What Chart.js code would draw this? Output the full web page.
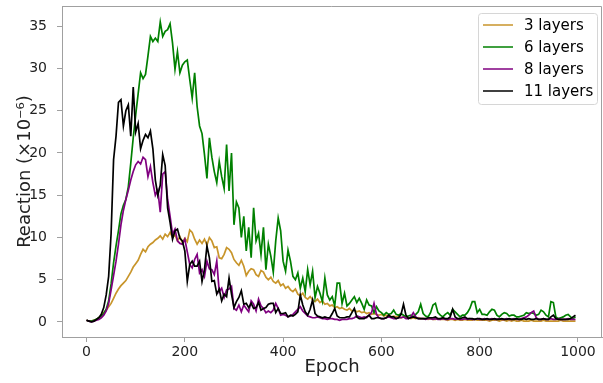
<!DOCTYPE html>
<html>
<head>
<meta charset="utf-8">
<script src="https://cdn.jsdelivr.net/npm/chart.js@4.4.1/dist/chart.umd.min.js"></script>
<style>
  html, body { margin: 0; padding: 0; background: #fff; }
  #wrap { width: 603px; height: 383px; position: relative; }
</style>
</head>
<body>
<div id="wrap"><canvas id="chart"></canvas></div>
<script>
var STEP = 5;
var xTicks = [0, 200, 400, 600, 800, 1000];
var yTicks = [0, 5, 10, 15, 20, 25, 30, 35];
var seriesNames = ['3 layers', '6 layers', '8 layers', '11 layers'];
var seriesColors = ['#c8952b', '#008000', '#800080', '#000000'];

var layers3 = [
  0.2,0.1,0.1,0.2,0.3,0.5,0.8,1.1,1.4,1.8,2.2,2.8,3.4,3.9,4.3,4.6,4.9,5.4,5.9,6.5,
  6.9,7.3,8.0,8.6,8.3,8.9,9.2,9.4,9.7,9.9,10.2,9.8,10.4,10.1,10.6,10.0,10.3,9.6,10.1,9.4,
  9.9,9.5,10.9,10.6,9.8,9.2,9.7,9.3,9.8,9.1,10.0,9.6,8.8,8.9,7.6,7.5,8.0,8.8,8.6,8.2,
  7.4,7.0,6.7,7.3,6.6,5.5,6.0,6.3,6.2,5.6,5.4,6.1,5.9,5.3,5.0,5.3,4.8,4.6,4.9,4.3,
  4.5,4.0,4.2,3.8,3.6,3.9,3.3,3.1,3.4,2.9,2.7,3.0,2.6,2.4,2.7,2.3,2.5,2.1,2.2,1.9,
  2.0,1.7,1.8,1.6,1.7,1.5,1.4,1.6,1.3,1.4,1.2,1.3,1.1,1.2,1.0,1.1,0.9,1.0,0.9,0.8,
  0.9,0.7,0.8,0.7,0.6,0.7,0.6,0.6,0.5,0.6,0.5,0.5,0.4,0.5,0.4,0.5,0.4,0.4,0.4,0.3,
  0.4,0.3,0.3,0.4,0.3,0.3,0.3,0.2,0.3,0.3,0.2,0.3,0.2,0.2,0.3,0.2,0.2,0.2,0.3,0.2,
  0.2,0.2,0.2,0.2,0.1,0.2,0.2,0.2,0.1,0.2,0.2,0.1,0.2,0.1,0.2,0.1,0.1,0.2,0.1,0.1,
  0.1,0.2,0.1,0.1,0.1,0.1,0.2,0.1,0.1,0.1,0.1,0.1,0.1,0.2,0.1,0.1,0.1,0.1,0.1,0.1
];
var layers6 = [
  0.2,0.1,0.1,0.2,0.3,0.5,0.7,1.0,1.5,2.5,4.5,7.0,9.0,10.8,12.8,13.8,14.5,16.0,18.8,21.8,
  24.5,27.0,29.5,28.8,29.3,31.5,33.8,33.2,33.6,33.2,35.5,33.8,34.4,34.6,35.3,33.0,29.9,32.0,29.5,30.4,
  30.8,31.0,28.7,26.5,29.5,25.5,23.2,22.3,19.8,17.0,21.8,19.5,17.8,16.5,19.0,17.2,15.8,21.0,15.5,20.0,
  11.5,14.2,13.5,10.0,12.5,8.4,11.2,7.6,13.5,9.6,10.5,8.0,11.2,6.2,9.2,7.8,5.9,9.6,12.3,10.8,
  7.2,6.0,8.5,7.2,5.4,5.0,5.8,4.0,5.2,3.6,6.2,4.4,6.0,2.9,4.2,3.4,2.4,5.2,3.2,2.6,
  3.0,1.9,4.6,4.6,2.2,3.4,1.9,2.2,2.6,3.0,2.3,2.8,2.2,1.5,2.6,2.0,1.9,1.1,1.8,1.3,
  1.1,0.8,1.1,0.9,1.0,1.4,0.9,0.8,1.0,0.8,0.6,0.7,0.8,0.6,0.9,1.2,2.1,1.0,0.7,0.6,
  1.1,2.0,2.2,1.1,0.8,0.6,0.9,1.1,0.8,1.5,1.2,0.9,0.6,0.8,0.8,1.1,1.6,2.4,2.4,1.1,
  1.5,0.9,0.9,0.8,1.2,1.5,1.4,0.8,0.6,0.9,1.1,1.0,0.7,0.8,0.8,0.6,0.6,0.7,0.8,1.1,
  1.0,1.1,1.0,0.8,0.9,1.4,1.2,0.8,0.6,2.4,2.3,0.6,0.4,0.5,0.6,0.8,0.9,0.6,0.4,0.6
];
var layers8 = [
  0.2,0.1,0.0,0.1,0.2,0.3,0.5,0.8,1.3,2.2,3.8,5.5,7.2,9.2,11.5,13.2,14.5,15.6,16.8,17.8,
  18.6,19.0,18.7,19.5,19.2,17.2,18.4,16.5,15.0,15.6,13.0,17.5,17.8,14.5,12.5,10.4,11.0,9.6,9.3,9.2,
  9.8,8.3,6.8,6.4,7.4,8.0,5.8,6.2,5.4,7.2,6.3,6.2,5.6,7.2,3.6,4.0,2.9,3.8,3.9,4.2,
  1.6,1.4,2.0,1.2,2.0,1.6,1.2,2.5,2.1,1.3,2.7,1.9,1.6,1.1,1.3,1.1,1.4,2.2,1.6,0.8,
  0.9,0.8,0.6,0.7,0.9,1.2,1.5,1.8,1.3,1.0,0.7,0.6,0.5,0.5,0.6,0.5,0.4,0.4,0.3,0.4,
  0.4,0.3,0.3,0.2,0.3,0.3,0.3,0.4,0.4,0.5,0.7,0.6,0.5,0.6,0.5,0.8,1.1,2.2,0.9,0.5,
  0.4,0.4,0.5,0.6,0.5,0.4,0.4,0.5,0.5,0.6,0.4,0.4,0.6,1.1,0.6,0.4,0.4,0.4,0.3,0.4,
  0.4,0.3,0.4,0.3,0.3,0.4,0.3,0.3,0.4,0.4,0.3,0.4,0.3,0.3,0.4,0.3,0.4,0.3,0.3,0.4,
  0.3,0.3,0.4,0.3,0.3,0.4,0.3,0.3,0.4,0.3,0.3,0.4,0.3,0.3,0.4,0.3,0.3,0.4,0.5,0.6,
  0.8,1.1,1.3,0.5,0.3,0.3,0.4,0.3,0.3,0.4,0.3,0.3,0.4,0.3,0.3,0.3,0.4,0.3,0.3,0.3
];
var layers11 = [
  0.2,0.1,0.0,0.1,0.3,0.5,0.9,1.7,3.2,5.4,10.5,19.2,22.0,26.0,26.3,23.2,25.0,25.7,22.0,27.8,
  22.5,23.5,20.5,21.5,22.2,21.8,22.6,20.5,16.8,15.0,16.2,19.8,18.5,13.5,11.8,9.8,10.8,11.0,9.9,9.6,
  8.4,4.8,6.8,7.2,6.6,6.6,7.2,4.8,6.2,9.0,7.6,4.8,4.9,3.3,3.9,2.5,3.3,3.0,5.2,3.3,
  1.7,2.4,2.9,3.7,2.1,2.2,1.7,2.2,1.6,1.7,2.3,1.4,1.6,1.7,2.1,2.2,2.2,1.1,1.6,1.0,
  1.0,1.1,0.6,0.8,0.7,0.9,1.2,3.2,2.0,1.2,0.8,1.5,2.6,1.0,0.7,0.6,0.5,0.6,0.5,0.5,
  1.0,1.6,0.7,0.5,0.5,0.5,0.6,0.6,1.1,1.6,0.6,0.4,0.4,0.4,0.6,0.8,0.4,0.4,0.5,0.5,
  0.4,0.4,0.5,0.8,0.6,0.6,0.4,0.5,0.9,2.1,0.8,0.4,0.5,0.6,0.5,0.4,0.4,0.4,0.4,0.5,
  0.5,0.5,0.6,0.4,0.4,0.5,0.4,0.4,0.6,1.5,0.6,0.4,0.4,0.5,0.6,0.4,0.4,0.4,0.3,0.4,
  0.4,0.3,0.3,0.4,0.3,0.3,0.4,0.3,0.3,0.4,0.3,0.3,0.4,0.3,0.3,0.4,0.3,0.3,0.4,0.3,
  0.4,0.3,0.3,0.4,0.3,0.3,0.4,0.3,0.3,0.6,0.8,0.4,0.3,0.3,0.3,0.3,0.3,0.4,0.6,0.8
];

var allSeries = [layers3, layers6, layers8, layers11];
var spine = '#a0a0a0';
var FONT = "'DejaVu Sans', sans-serif";

function toPoints(vals) {
    return vals.map(function(v, i) { return {x: i * STEP, y: v}; });
}

// matplotlib style legend, top right inside the axes
var boxLegend = {
    id: 'boxLegend',
    afterDraw: function(chart) {
        var ctx = chart.ctx, area = chart.chartArea;
        var w = 119, h = 91;
        var x0 = area.right - 5 - w, y0 = area.top + 7;
        ctx.save();
        ctx.fillStyle = 'rgba(255,255,255,0.8)';
        ctx.strokeStyle = '#d6d6d6';
        ctx.lineWidth = 1;
        ctx.beginPath();
        ctx.roundRect(x0 + 0.5, y0 + 0.5, w, h, 3);
        ctx.fill();
        ctx.stroke();
        ctx.font = '15px ' + FONT;
        ctx.textBaseline = 'middle';
        ctx.fillStyle = '#000';
        chart.data.datasets.forEach(function(ds, i) {
            var cy = y0 + 12 + i * 22;
            ctx.strokeStyle = ds.borderColor;
            ctx.lineWidth = 1.5;
            ctx.beginPath();
            ctx.moveTo(x0 + 5, cy);
            ctx.lineTo(x0 + 35, cy);
            ctx.stroke();
            ctx.fillText(ds.label, x0 + 46, cy + 1);
        });
        ctx.restore();
    }
};

// top and right spines
var frame = {
    id: 'frame',
    afterDraw: function(chart) {
        var ctx = chart.ctx, a = chart.chartArea;
        ctx.save();
        ctx.strokeStyle = spine;
        ctx.lineWidth = 1;
        ctx.beginPath();
        ctx.moveTo(a.left, a.top + 0.5);
        ctx.lineTo(a.right - 0.5, a.top + 0.5);
        ctx.lineTo(a.right - 0.5, a.bottom);
        ctx.stroke();
        ctx.restore();
    }
};

var datasets = allSeries.map(function(vals, i) {
    return {
        label: seriesNames[i],
        data: toPoints(vals),
        borderColor: seriesColors[i],
        borderWidth: 1.7,
        pointRadius: 0,
        fill: false,
        tension: 0,
        order: 3 - i
    };
});

function plainTick(v) { return String(v); }

new Chart(document.getElementById('chart'), {
    type: 'line',
    data: {datasets: datasets},
    plugins: [frame, boxLegend],
    options: {
        responsive: true,
        maintainAspectRatio: false,
        animation: false,
        layout: {padding: {top: 6, right: 1, left: 0, bottom: 0}},
        plugins: {legend: {display: false}, tooltip: {enabled: false}},
        scales: {
            x: {
                type: 'linear',
                min: -49.95,
                max: 1048.95,
                afterBuildTicks: function(s) { s.ticks = xTicks.map(function(v) { return {value: v}; }); },
                afterFit: function(s) { s.height = 46; s.paddingLeft = 0; s.paddingRight = 0; },
                border: {color: spine},
                grid: {drawOnChartArea: false, tickLength: 5, color: spine},
                ticks: {color: '#222', padding: 2, maxRotation: 0, callback: plainTick, font: {family: FONT, size: 14}},
                title: {display: true, text: 'Epoch', color: '#222', padding: {top: 0, bottom: 5}, font: {family: FONT, size: 18}}
            },
            y: {
                min: -1.78,
                max: 37.4,
                afterBuildTicks: function(s) { s.ticks = yTicks.map(function(v) { return {value: v}; }); },
                afterFit: function(s) { s.width = 62; s.paddingTop = 0; s.paddingBottom = 0; },
                border: {color: spine},
                grid: {drawOnChartArea: false, tickLength: 5, color: spine},
                ticks: {color: '#222', padding: 10, callback: plainTick, font: {family: FONT, size: 14}},
                title: {display: true, text: 'Reaction (\u00d710\u207b\u2076)', color: '#222', padding: {top: 15, bottom: 0}, font: {family: FONT, size: 18}}
            }
        }
    }
});
</script>
</body>
</html>
